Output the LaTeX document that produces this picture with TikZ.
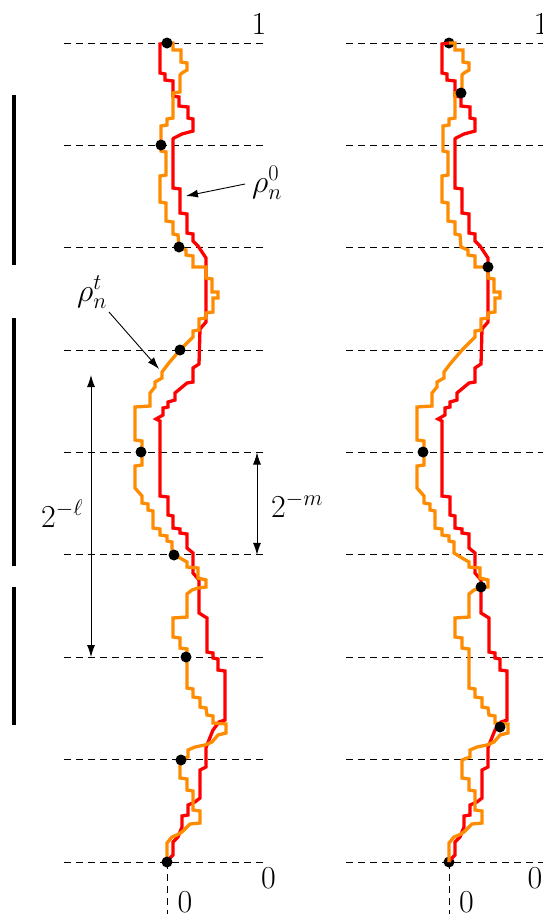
\RequirePackage{fix-cm}
\documentclass[tikz,border=0pt]{standalone}
\usetikzlibrary{arrows.meta}
\definecolor{myred}{RGB}{255,0,0}
\definecolor{myorange}{RGB}{255,140,0}
\begin{document}
\begin{tikzpicture}[x=1pt,y=-1pt,
  redline/.style={myred,line width=3.3pt},
  orangeline/.style={myorange,line width=3.3pt},
  guide/.style={black,line width=1pt,dash pattern=on 7pt off 5pt},
  bar/.style={black,line width=3.5pt},
  dotnode/.style={circle,fill=black,inner sep=0pt,minimum size=11pt},
  lab/.style={inner sep=0pt,font=\fontsize{32}{38}\selectfont},
  tip/.style={-{Latex[length=12pt,width=8pt]},line width=0.9pt},
  dtip/.style={{Latex[length=12pt,width=8pt]}-{Latex[length=12pt,width=8pt]},line width=0.9pt}]
\useasboundingbox (0,0) rectangle (543,914);

% horizontal guides
\foreach \yy in {43,145.4,247.8,350.1,452.5,554.9,657.3,759.6,862} {
  \draw[guide] (64,\yy) -- (264,\yy);
  \draw[guide] (346,\yy) -- (560,\yy);
}
\draw[guide] (167,862) -- (167,920);
\draw[guide] (449,862) -- (449,920);

% dots drawn under the right panel's curves
\node[dotnode] (r1) at (449,43) {};
\node[dotnode] (r7) at (449,862) {};

% the two curves, in both panels
\foreach \s in {0,282} {
\begin{scope}[xshift=\s pt]
\draw[redline] (167,43) -- (160,44) -- (160,73) -- (165,74) -- (165,80) -- (173,81) -- (173,96) -- (179,97) -- (179,106) -- (188,107) -- (188,118) -- (193,119) -- (193,131) -- (182,134) -- (174,138) -- (173,139) -- (173,188) -- (180,189) -- (180,213) -- (187,214) -- (187,233) -- (193,234) -- (193,241) -- (198,246) -- (206,258) -- (206,322) -- (200,329) -- (199,364) -- (193,368) -- (193,382) -- (187,383) -- (175,393) -- (175,400) -- (168,402) -- (168,407) -- (163,408) -- (163,415) -- (156,419) -- (160,421) -- (160,496) -- (168,497) -- (168,515) -- (173,516) -- (173,528) -- (180,529) -- (180,533) -- (187,534) -- (187,548) -- (193,553) -- (193,573) -- (199,580) -- (199,613) -- (207,618) -- (207,652) -- (213,653) -- (213,658) -- (218,659) -- (218,670) -- (225,671) -- (225,720) -- (219,722) -- (213,730) -- (207,745) -- (206,748) -- (206,767) -- (200,770) -- (200,798) -- (195,802) -- (188,805) -- (188,815) -- (182,816) -- (182,827) -- (178,837) -- (173,842) -- (173,855) -- (168,860) -- (167,862);
\draw[orangeline] (167,43) -- (173,43) -- (173,50) -- (181,50) -- (181,62) -- (187,63) -- (187,70) -- (182,73) -- (180,75) -- (180,92) -- (173,93) -- (173,118) -- (167,119) -- (167,125) -- (161,126) -- (161,151) -- (166,152) -- (166,175) -- (160,176) -- (160,202) -- (166,203) -- (166,221) -- (173,222) -- (173,234) -- (178,235) -- (179,247) -- (186,250) -- (186,255) -- (193,256) -- (193,267) -- (206,267) -- (206,278) -- (212,279) -- (212,292) -- (218,292) -- (218,298) -- (213,298) -- (213,312) -- (206,313) -- (206,318) -- (199,319) -- (199,330) -- (193,331) -- (193,337) -- (180,350) -- (168,364) -- (162,372) -- (162,378) -- (155,382) -- (155,387) -- (150,393) -- (150,406) -- (135,407) -- (135,440) -- (142,441) -- (142,465) -- (135,466) -- (135,488) -- (142,496) -- (142,503) -- (148,504) -- (148,510) -- (153,511) -- (153,528) -- (160,529) -- (160,535) -- (167,536) -- (167,541) -- (172,542) -- (172,553) -- (180,558) -- (187,562) -- (187,567) -- (198,568) -- (198,578) -- (206,580) -- (206,587) -- (198,588) -- (192,590) -- (187,594) -- (187,617) -- (173,618) -- (173,637) -- (180,638) -- (180,648) -- (187,649) -- (187,688) -- (193,689) -- (193,697) -- (200,698) -- (200,707) -- (206,708) -- (207,715) -- (213,716) -- (213,723) -- (226,724) -- (226,733) -- (218,735) -- (212,742) -- (205,745) -- (195,747) -- (188,750) -- (188,757) -- (180,760) -- (180,778) -- (187,779) -- (187,790) -- (193,791) -- (193,810) -- (200,811) -- (200,823) -- (190,824) -- (182,832) -- (177,835) -- (172,837) -- (167,843) -- (167,862);
\end{scope}
}

% left panel dots
\node[dotnode] (l1) at (167,43) {};
\node[dotnode] (l2) at (161,145) {};
\node[dotnode] (l3) at (179,247) {};
\node[dotnode] (l4) at (180,350) {};
\node[dotnode] (l5) at (141,452) {};
\node[dotnode] (l6) at (174,555) {};
\node[dotnode] (l7) at (186,657) {};
\node[dotnode] (l8) at (181,760) {};
\node[dotnode] (l9) at (167,862) {};
% right panel dots
\node[dotnode] (r2) at (461,93) {};
\node[dotnode] (r3) at (488,267) {};
\node[dotnode] (r4) at (423,452) {};
\node[dotnode] (r5) at (481,587) {};
\node[dotnode] (r6) at (500,727) {};

% black bars
\draw[bar] (14,95) -- (14,265);
\draw[bar] (14,318) -- (14,566);
\draw[bar] (14,587) -- (14,725);

% labels
\node[lab,anchor=base] (oneL) at (259,34) {$1$};
\node[lab,anchor=base] (oneR) at (541,34) {$1$};
\node[lab,anchor=base] (zeroL) at (268.5,888) {$0$};
\node[lab,anchor=base] (zeroR) at (535,888) {$0$};
\node[lab,anchor=base] (zeroBL) at (185,912) {$0$};
\node[lab,anchor=base] (zeroBR) at (466.5,912) {$0$};
\node[lab,anchor=base west] (rho0) at (252,192) {$\rho_n^0$};
\node[lab,anchor=base west] (rhot) at (77,301) {$\rho_n^t$};
\node[lab,anchor=base west] (lscale) at (41,527) {$2^{-\ell}$};
\node[lab,anchor=base west] (mscale) at (271,517) {$2^{-m}$};

% arrows
\coordinate (a0s) at (245,184);
\coordinate (a0e) at (186,196);
\coordinate (ats) at (109,312);
\coordinate (ate) at (159,369);
\draw[tip] (a0s) -- (a0e);
\draw[tip] (ats) -- (ate);
\coordinate (lt) at (91,375);
\coordinate (lb) at (91,657);
\draw[dtip] (lt) -- (lb);
\coordinate (mt) at (257,452.5);
\coordinate (mb) at (257,554.9);
\draw[dtip] (mt) -- (mb);
\end{tikzpicture}
\end{document}
